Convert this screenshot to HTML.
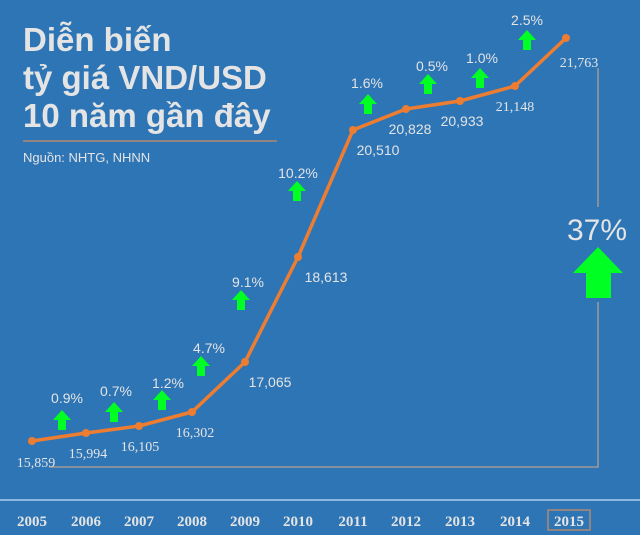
<!DOCTYPE html>
<html><head><meta charset="utf-8"><style>
html,body{margin:0;padding:0;background:#2e75b6;}
svg{display:block}
.t{font-family:"Liberation Sans",sans-serif;fill:#e4e4e4}
.n{font-family:"Liberation Serif",serif;fill:#e4e4e4;font-size:14px;text-anchor:middle}
.s{font-family:"Liberation Sans",sans-serif;fill:#e4e4e4;font-size:14px;text-anchor:middle}
.p{font-family:"Liberation Sans",sans-serif;fill:#e4e4e4;font-size:14px;text-anchor:middle}
.y{font-family:"Liberation Serif",serif;fill:#e4e4e4;font-size:15px;font-weight:bold;text-anchor:middle}
</style></head><body>
<svg width="640" height="535" viewBox="0 0 640 535" xmlns="http://www.w3.org/2000/svg">
<rect width="640" height="535" fill="#2e75b6"/>
<text class="t" x="23" y="51" font-size="33" font-weight="bold">Diễn biến</text>
<text class="t" x="23" y="89" font-size="33" font-weight="bold">tỷ giá VND/USD</text>
<text class="t" x="23" y="127" font-size="33" font-weight="bold">10 năm gần đây</text>
<line x1="23" y1="141" x2="277" y2="141" stroke="#b08a70" stroke-width="1.5"/>
<text class="t" x="23" y="162" font-size="13">Nguồn: NHTG, NHNN</text>
<polyline points="598,68 598,207" fill="none" stroke="#a09a96" stroke-width="1.5"/>
<polyline points="598,302 598,467 49,467" fill="none" stroke="#a09a96" stroke-width="1.5"/>
<polyline points="32,441 86,433 139,426 192,412 245,362 298,257 353,130 406,109 460,101 515,86 566,38" fill="none" stroke="#ed7d31" stroke-width="3.5" stroke-linejoin="round"/>
<g fill="#ed7d31">
<circle cx="32" cy="441" r="4"/><circle cx="86" cy="433" r="4"/><circle cx="139" cy="426" r="4"/><circle cx="192" cy="412" r="4"/><circle cx="245" cy="362" r="4"/><circle cx="298" cy="257" r="4"/><circle cx="353" cy="130" r="4"/><circle cx="406" cy="109" r="4"/><circle cx="460" cy="101" r="4"/><circle cx="515" cy="86" r="4"/><circle cx="566" cy="38" r="4"/>
</g>
<text class="n" x="36" y="467">15,859</text>
<text class="n" x="88" y="458">15,994</text>
<text class="n" x="140" y="451">16,105</text>
<text class="n" x="195" y="437">16,302</text>
<text class="s" x="270" y="387">17,065</text>
<text class="s" x="326" y="282">18,613</text>
<text class="s" x="378" y="155">20,510</text>
<text class="s" x="410" y="134">20,828</text>
<text class="s" x="462" y="126">20,933</text>
<text class="n" x="515" y="111">21,148</text>
<text class="n" x="579" y="67">21,763</text>
<text class="p" x="67" y="403">0.9%</text>
<text class="p" x="116" y="396">0.7%</text>
<text class="p" x="168" y="388">1.2%</text>
<text class="p" x="209" y="353">4.7%</text>
<text class="p" x="248" y="287">9.1%</text>
<text class="p" x="298" y="178">10.2%</text>
<text class="p" x="367" y="88">1.6%</text>
<text class="p" x="432" y="71">0.5%</text>
<text class="p" x="482" y="63">1.0%</text>
<text class="p" x="527" y="25">2.5%</text>
<g fill="#00ff22">
<path d="M62,410 l9,10 h-5 v10 h-8 v-10 h-5 z"/>
<path d="M114,402 l9,10 h-5 v10 h-8 v-10 h-5 z"/>
<path d="M162,390 l9,10 h-5 v10 h-8 v-10 h-5 z"/>
<path d="M201,356 l9,10 h-5 v10 h-8 v-10 h-5 z"/>
<path d="M241,290 l9,10 h-5 v10 h-8 v-10 h-5 z"/>
<path d="M297,181 l9,10 h-5 v10 h-8 v-10 h-5 z"/>
<path d="M368,94 l9,10 h-5 v10 h-8 v-10 h-5 z"/>
<path d="M428,74 l9,10 h-5 v10 h-8 v-10 h-5 z"/>
<path d="M480,68 l9,10 h-5 v10 h-8 v-10 h-5 z"/>
<path d="M527,30 l9,10 h-5 v10 h-8 v-10 h-5 z"/>
<path d="M598,247 l25,26 h-12 v25 h-25 v-25 h-13 z"/>
</g>
<text class="t" x="597" y="240" font-size="30" text-anchor="middle">37%</text>
<line x1="0" y1="500" x2="640" y2="500" stroke="#8fb8e0" stroke-width="2"/>
<text class="y" x="32" y="526">2005</text>
<text class="y" x="86" y="526">2006</text>
<text class="y" x="139" y="526">2007</text>
<text class="y" x="192" y="526">2008</text>
<text class="y" x="245" y="526">2009</text>
<text class="y" x="298" y="526">2010</text>
<text class="y" x="353" y="526">2011</text>
<text class="y" x="406" y="526">2012</text>
<text class="y" x="460" y="526">2013</text>
<text class="y" x="515" y="526">2014</text>
<text class="y" x="569" y="526">2015</text>
<rect x="548" y="510" width="42" height="20" fill="none" stroke="#b08a70" stroke-width="1.5"/>
</svg>
</body></html>
